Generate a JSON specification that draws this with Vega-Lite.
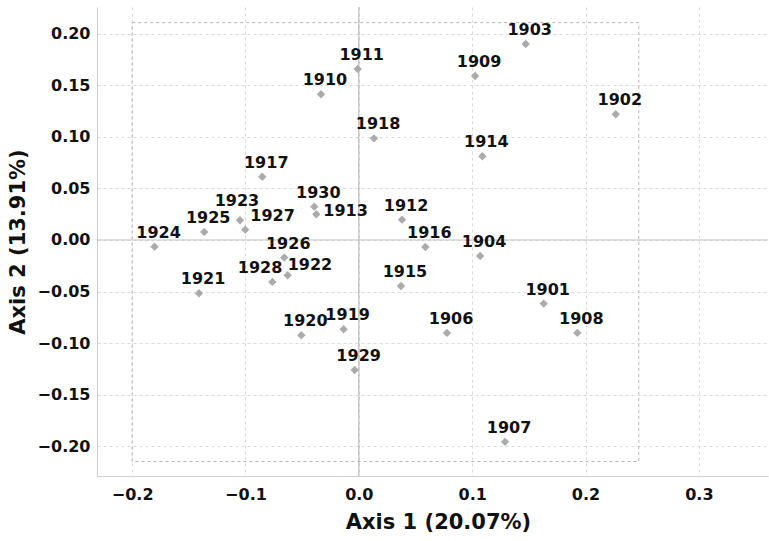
{
  "$schema": "https://vega.github.io/schema/vega-lite/v6.json",
  "width": 671,
  "height": 469,
  "autosize": {"type": "none"},
  "padding": {"left": 97, "top": 7, "right": 1, "bottom": 65},
  "background": "white",
  "config": {
    "view": {"stroke": null},
    "font": "DejaVu Sans",
    "axis": {
      "grid": true,
      "gridColor": "#d9d9d9",
      "gridDash": [3, 3],
      "gridWidth": 1,
      "domainColor": "#cfcfcf",
      "ticks": false,
      "labelFont": "DejaVu Sans",
      "labelFontSize": 16,
      "labelFontWeight": "bold",
      "labelColor": "#111111",
      "titleFont": "DejaVu Sans",
      "titleFontSize": 21,
      "titleFontWeight": "bold",
      "titleColor": "#111111"
    },
    "axisX": {"labelPadding": 10, "titlePadding": 9, "titleX": 341},
    "axisY": {"labelPadding": 7, "titlePadding": 9}
  },
  "datasets": {
    "pts": [
      {"year": "1901", "x": 0.1631, "y": -0.0617},
      {"year": "1902", "x": 0.2267, "y": 0.1218},
      {"year": "1903", "x": 0.1472, "y": 0.1899},
      {"year": "1904", "x": 0.107, "y": -0.0155},
      {"year": "1906", "x": 0.0778, "y": -0.0901},
      {"year": "1907", "x": 0.129, "y": -0.1957},
      {"year": "1908", "x": 0.1928, "y": -0.0901},
      {"year": "1909", "x": 0.1026, "y": 0.1589},
      {"year": "1910", "x": -0.0334, "y": 0.1412},
      {"year": "1911", "x": -0.001, "y": 0.1657},
      {"year": "1912", "x": 0.0381, "y": 0.0197},
      {"year": "1913", "x": -0.0375, "y": 0.0249},
      {"year": "1914", "x": 0.109, "y": 0.0811},
      {"year": "1915", "x": 0.0372, "y": -0.0446},
      {"year": "1916", "x": 0.0587, "y": -0.0068},
      {"year": "1917", "x": -0.0852, "y": 0.0613},
      {"year": "1918", "x": 0.0134, "y": 0.0985},
      {"year": "1919", "x": -0.0134, "y": -0.0866},
      {"year": "1920", "x": -0.0507, "y": -0.0924},
      {"year": "1921", "x": -0.141, "y": -0.0517},
      {"year": "1922", "x": -0.0628, "y": -0.0342},
      {"year": "1923", "x": -0.1049, "y": 0.0191},
      {"year": "1924", "x": -0.1802, "y": -0.0065},
      {"year": "1925", "x": -0.1364, "y": 0.0078},
      {"year": "1926", "x": -0.0658, "y": -0.0171},
      {"year": "1927", "x": -0.1002, "y": 0.01},
      {"year": "1928", "x": -0.0763, "y": -0.0407},
      {"year": "1929", "x": -0.0037, "y": -0.126},
      {"year": "1930", "x": -0.0393, "y": 0.0323}
    ]
  },
  "encoding": {
    "x": {
      "field": "x",
      "type": "quantitative",
      "scale": {"domain": [-0.231, 0.361], "nice": false, "zero": false},
      "axis": {"title": "Axis 1 (20.07%)", "values": [-0.2, -0.1, 0, 0.1, 0.2, 0.3], "format": ".1f"}
    },
    "y": {
      "field": "y",
      "type": "quantitative",
      "scale": {"domain": [-0.2288, 0.2258], "nice": false, "zero": false},
      "axis": {"title": "Axis 2 (13.91%)", "values": [-0.2, -0.15, -0.1, -0.05, 0, 0.05, 0.1, 0.15, 0.2], "format": ".2f"}
    }
  },
  "layer": [
    {
      "data": {"values": [{"x": -0.2, "y": -0.2148, "xe": 0.247, "ye": 0.2107}]},
      "mark": {"type": "rect", "fill": null, "stroke": "#b5b5b5", "strokeDash": [3, 3], "strokeWidth": 1},
      "encoding": {"x2": {"field": "xe"}, "y2": {"field": "ye"}}
    },
    {
      "data": {"values": [{"x": 0}]},
      "mark": {"type": "rule", "color": "#b0b0b0", "strokeWidth": 1},
      "encoding": {"y": null}
    },
    {
      "data": {"values": [{"y": 0}]},
      "mark": {"type": "rule", "color": "#c4c4c4", "strokeWidth": 1},
      "encoding": {"x": null}
    },
    {
      "data": {"name": "pts"},
      "mark": {"type": "point", "shape": "diamond", "filled": true, "color": "#ababab", "opacity": 1, "size": 70}
    },
    {
      "data": {"name": "pts"},
      "transform": [{"filter": "indexof(['1913','1927','1928','1922','1923'], datum.year) < 0"}],
      "mark": {"type": "text", "dx": 4, "dy": -14, "font": "DejaVu Sans", "fontSize": 16, "fontWeight": "bold", "color": "#111111"},
      "encoding": {"text": {"field": "year", "type": "nominal"}}
    },
    {
      "data": {"name": "pts"},
      "transform": [{"filter": "datum.year == '1913'"}],
      "mark": {"type": "text", "align": "left", "dx": 7, "dy": -3, "font": "DejaVu Sans", "fontSize": 16, "fontWeight": "bold", "color": "#111111"},
      "encoding": {"text": {"field": "year", "type": "nominal"}}
    },
    {
      "data": {"name": "pts"},
      "transform": [{"filter": "datum.year == '1927'"}],
      "mark": {"type": "text", "align": "left", "dx": 5, "dy": -14, "font": "DejaVu Sans", "fontSize": 16, "fontWeight": "bold", "color": "#111111"},
      "encoding": {"text": {"field": "year", "type": "nominal"}}
    },
    {
      "data": {"name": "pts"},
      "transform": [{"filter": "datum.year == '1928'"}],
      "mark": {"type": "text", "align": "right", "dx": 10, "dy": -14, "font": "DejaVu Sans", "fontSize": 16, "fontWeight": "bold", "color": "#111111"},
      "encoding": {"text": {"field": "year", "type": "nominal"}}
    },
    {
      "data": {"name": "pts"},
      "transform": [{"filter": "datum.year == '1922'"}],
      "mark": {"type": "text", "align": "left", "dx": 0, "dy": -10, "font": "DejaVu Sans", "fontSize": 16, "fontWeight": "bold", "color": "#111111"},
      "encoding": {"text": {"field": "year", "type": "nominal"}}
    },
    {
      "data": {"name": "pts"},
      "transform": [{"filter": "datum.year == '1923'"}],
      "mark": {"type": "text", "dx": -3, "dy": -19, "font": "DejaVu Sans", "fontSize": 16, "fontWeight": "bold", "color": "#111111"},
      "encoding": {"text": {"field": "year", "type": "nominal"}}
    }
  ]
}
